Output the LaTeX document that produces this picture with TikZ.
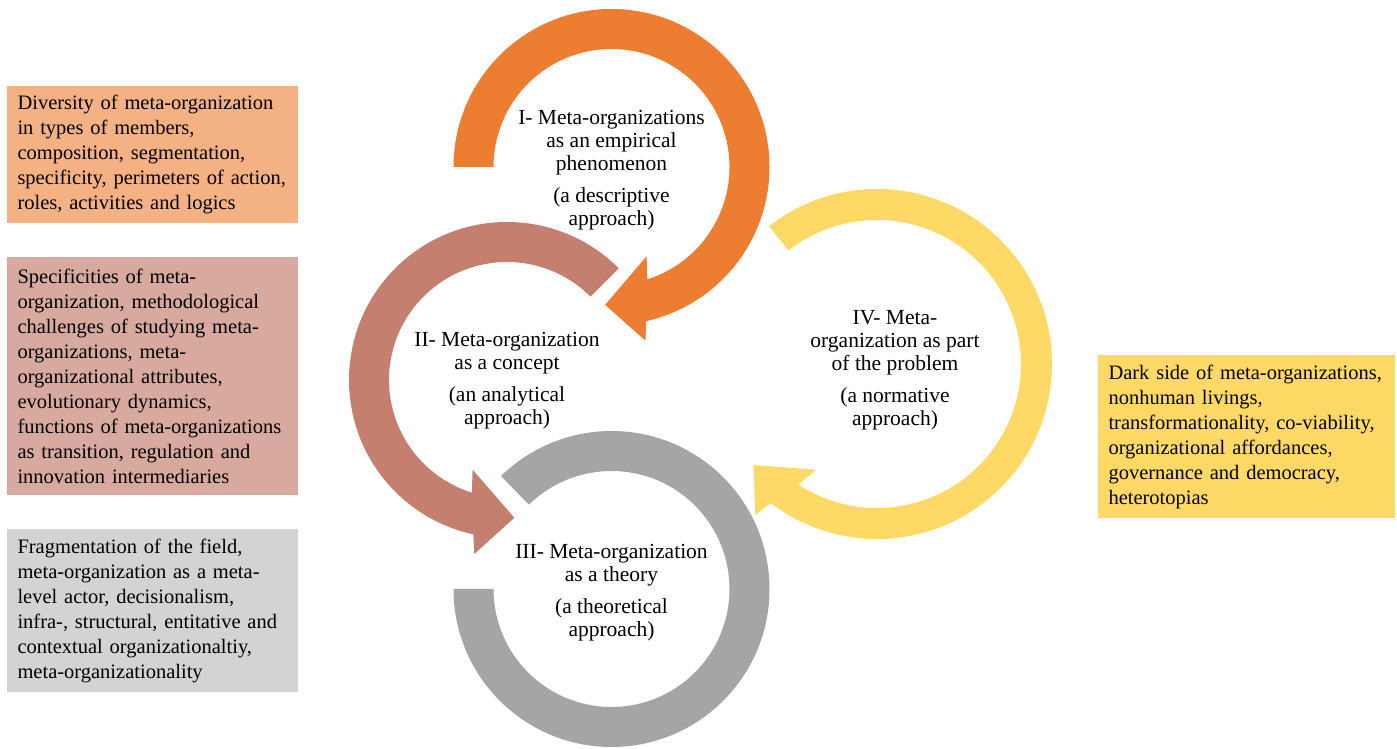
\documentclass[tikz,border=0pt]{standalone}
\usepackage{fontspec}
\setmainfont{Liberation Serif}
\usepackage{tikz}
\definecolor{ringone}{HTML}{ED7D31}
\definecolor{ringtwo}{HTML}{C47F6F}
\definecolor{ringthree}{HTML}{A5A5A5}
\definecolor{ringfour}{HTML}{FFD966}
\definecolor{noteone}{HTML}{F4B183}
\definecolor{notetwo}{HTML}{D8AA9F}
\definecolor{notethree}{HTML}{D3D3D3}
\definecolor{notefour}{HTML}{FFD966}
% ring with an arrow head: [style](centre)(start:head:inner r:outer r:turn)
\def\ringarrow[#1](#2)(#3:#4:#5:#6:#7){%
	\pgfmathsetmacro\rMid{(#5+#6)/2}
	\pgfmathsetmacro\raOut{#4+(#7)*6/\rMid*57.3}
	\pgfmathsetmacro\raIn{#4-(#7)*6/\rMid*57.3}
	\pgfmathsetmacro\rbOut{#4+(#7)*10/\rMid*57.3}
	\pgfmathsetmacro\rbIn{#4-(#7)*15/\rMid*57.3}
	\pgfmathsetmacro\rTip{#4+(#7)*43/\rMid*57.3}
	\fill[#1,shift={(#2)}] (#3:#6) arc[start angle=#3, end angle=\raOut, radius=#6] -- (\rbOut:{#6+19}) -- (\rTip:\rMid) -- (\rbIn:{#5-22}) -- (\raIn:#5) arc[start angle=\raIn, end angle=#3, radius=#5] -- cycle;
}

\begin{document}
\begin{tikzpicture}[x=1pt, y=1pt,
	stagetext/.style={align=center, inner sep=0pt, font=\fontsize{21.5}{23}\selectfont},
	notebox/.style={rectangle, inner xsep=10.5pt, inner ysep=0pt, align=left, text width=270pt, minimum width=291pt, font=\fontsize{20.5}{25}\selectfont}]
			%%%%% START %%%%%
			
			\useasboundingbox (0, 0) rectangle (1397, 749);
			
			\ringarrow[ringone](611.5, 582)(180:-74.8:118:158:-1)
			\ringarrow[ringtwo](507, 369)(45:255.2:118:158:1)
			\fill[ringthree, shift={(611.5, 160)}] (180:158) arc[start angle=180, end angle=494.4, radius=158] -- (494.4:118) arc[start angle=494.4, end angle=180, radius=118] -- cycle;
			\ringarrow[ringfour](877, 385)(128:-125.25:144:175:-1)
			
			\node[stagetext] (stage1) at (611.5, 579) {I- Meta-organizations\\ as an empirical\\ phenomenon\\[9pt] (a descriptive\\ approach)};
			\node[stagetext] (stage2) at (507, 368) {II- Meta-organization\\ as a concept\\[9pt] (an analytical\\ approach)};
			\node[stagetext] (stage3) at (611.5, 156.5) {III- Meta-organization\\ as a theory\\[9pt] (a theoretical\\ approach)};
			\node[stagetext] (stage4) at (895, 378.5) {IV- Meta-\\ organization as part\\ of the problem\\[9pt] (a normative\\ approach)};
			
			\node[notebox, fill=noteone, minimum height=137pt] (note1) at (152.5, 594.5) {Diversity of meta-organization\\ in types of members,\\ composition, segmentation,\\ specificity, perimeters of action,\\ roles, activities and logics};
			\node[notebox, fill=notetwo, minimum height=238pt] (note2) at (152.5, 373) {Specificities of meta-\\ organization, methodological\\ challenges of studying meta-\\ organizations, meta-\\ organizational attributes,\\ evolutionary dynamics,\\ functions of meta-organizations\\ as transition, regulation and\\ innovation intermediaries};
			\node[notebox, fill=notethree, minimum height=163pt] (note3) at (152.5, 138.5) {Fragmentation of the field,\\ meta-organization as a meta-\\ level actor, decisionalism,\\ infra-, structural, entitative and\\ contextual organizationaltiy,\\ meta-organizationality};
			\node[notebox, fill=notefour, text width=276pt, minimum width=297pt, minimum height=163pt] (note4) at (1246.5, 312.5) {Dark side of meta-organizations,\\ nonhuman livings,\\ transformationality, co-viability,\\ organizational affordances,\\ governance and democracy,\\ heterotopias};
			
			%%%%% END %%%%%
		\end{tikzpicture}
\end{document}
